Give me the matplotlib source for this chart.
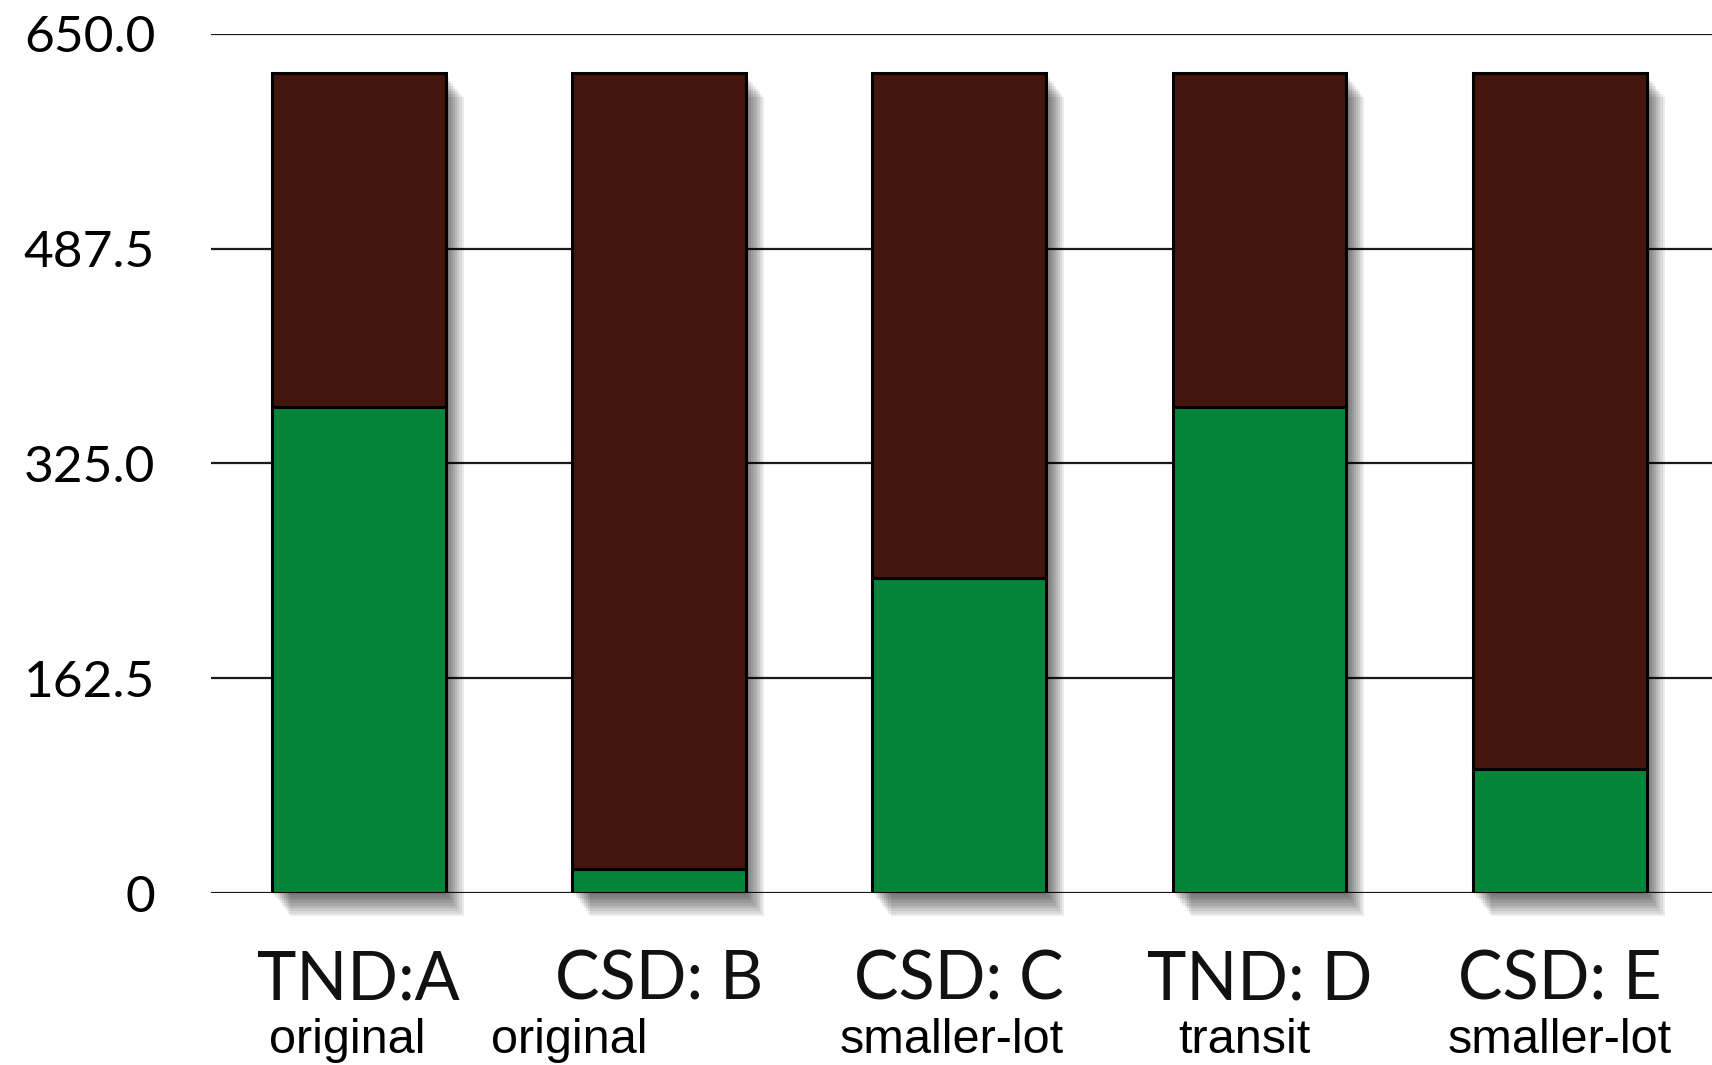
import matplotlib
matplotlib.use("Agg")
import matplotlib.pyplot as plt
import matplotlib.patheffects as pe
import matplotlib.transforms as mtransforms
import numpy as np

# values
categories = ["TND:A", "CSD: B", "CSD: C", "TND: D", "CSD: E"]
subtitles = ["original", "original", "smaller-lot", "transit", "smaller-lot"]
green_vals = [368, 18, 238, 368, 94]
totals = [620, 620, 620, 620, 620]
yticks = [0, 162.5, 325.0, 487.5, 650.0]
ytick_labels = ["0", "162.5", "325.0", "487.5", "650.0"]

# subtitle horizontal nudges (the second "original" sits left of its bar)
sub_shift = [-0.04, -0.30, -0.025, -0.05, 0.0]

GREEN = "#04853a"
BROWN = "#43150d"

fig = plt.figure(figsize=(17.12, 10.65), dpi=100)
ax = fig.add_axes([0.1231, 0.1615, 0.8769, 0.8068])

x = np.arange(len(categories))
brown_vals = [t - g for t, g in zip(totals, green_vals)]
width = 0.578

# soft drop shadow: stacked translucent offsets fake a blur
shadow = [pe.SimplePatchShadow(offset=(o, -o * 1.3), shadow_rgbFace="black", alpha=0.08)
          for o in (1, 2.5, 4, 5.5, 7, 8.5, 10, 11.5, 13)]
sh = ax.bar(x, totals, width, color="none", edgecolor="none", path_effects=shadow, zorder=1)
for p in sh:
    p.set_clip_on(False)

ax.bar(x, green_vals, width, color=GREEN, edgecolor="black", linewidth=2.2, zorder=3)
ax.bar(x, brown_vals, width, bottom=green_vals, color=BROWN, edgecolor="black",
       linewidth=2.2, zorder=3)

ax.set_xlim(-0.493, 4.507)
ax.set_ylim(0, 650)
ax.set_yticks(yticks)
ax.set_yticklabels(ytick_labels, fontfamily="Lato", fontsize=37)
ax.tick_params(axis="y", length=0, pad=40)
ax.set_xticks([])
for s in ax.spines.values():
    s.set_visible(False)
ax.yaxis.grid(True, color="#1a1a1a", linewidth=1.6, zorder=0)
ax.set_axisbelow(True)

trans = mtransforms.blended_transform_factory(ax.transData, ax.transAxes)
for i, (cat, sub) in enumerate(zip(categories, subtitles)):
    ax.text(i, -0.1245, cat, transform=trans, ha="center", va="baseline",
            fontfamily="Lato", fontsize=48, color="#111111")
    ax.text(i + sub_shift[i], -0.186, sub, transform=trans, ha="center", va="baseline",
            fontfamily="Liberation Sans", fontsize=35, color="black")

fig.savefig("out.png", dpi=100)
